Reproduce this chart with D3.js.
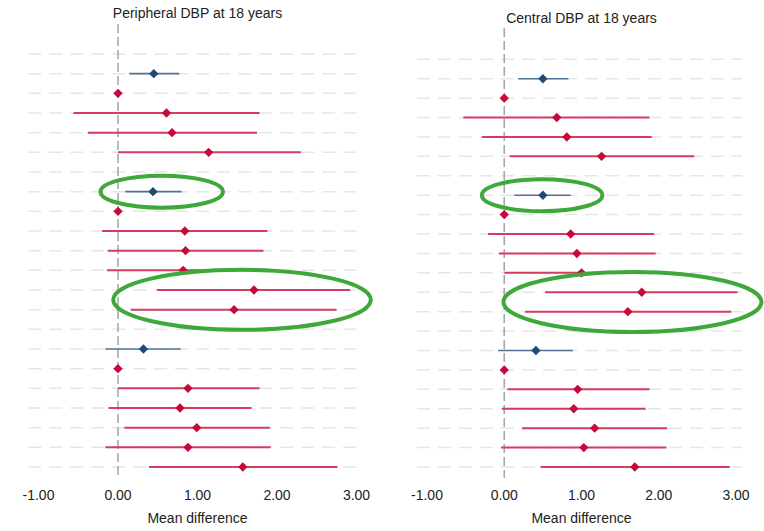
<!DOCTYPE html>
<html><head><meta charset="utf-8"><title>DBP at 18 years - forest plot</title>
<style>
    body {
        margin: 0;
        background: #fff;
        font-family: Arial, 'Liberation Sans', sans-serif;
    }
    svg text { fill: #222; }
</style>
<script src="https://cdnjs.cloudflare.com/ajax/libs/d3/7.8.5/d3.min.js"></script>
</head>
<body>
<div id="chart"></div>
<script>
// row kinds: "" = spacer row, "b" = overall estimate, "r" = category estimate
const rowKind = ["", "b", "r", "r", "r", "r", "", "b", "r", "r", "r", "r", "r", "r", "", "b", "r", "r", "r", "r", "r", "r"];

// Peripheral DBP at 18 years
const periphEst = [null, 0.45, 0, 0.61, 0.68, 1.14, null, 0.44, 0, 0.84, 0.85, 0.82, 1.71, 1.46, null, 0.32, 0, 0.88, 0.78, 0.99, 0.88, 1.57];
const periphLo  = [null, 0.14, 0, -0.56, -0.38, 0.00, null, 0.09, 0, -0.20, -0.13, -0.14, 0.49, 0.16, null, -0.16, 0, 0.00, -0.12, 0.08, -0.16, 0.39];
const periphHi  = [null, 0.77, 0, 1.78, 1.75, 2.30, null, 0.80, 0, 1.88, 1.83, 1.85, 2.92, 2.75, null, 0.79, 0, 1.78, 1.68, 1.91, 1.92, 2.76];

// Central DBP at 18 years
const centralEst = [null, 0.50, 0, 0.68, 0.81, 1.26, null, 0.50, 0, 0.86, 0.94, 1.00, 1.78, 1.60, null, 0.41, 0, 0.95, 0.90, 1.17, 1.03, 1.69];
const centralLo  = [null, 0.18, 0, -0.53, -0.29, 0.07, null, 0.13, 0, -0.21, -0.07, 0.00, 0.53, 0.27, null, -0.08, 0, 0.04, -0.03, 0.23, -0.04, 0.47];
const centralHi  = [null, 0.83, 0, 1.88, 1.91, 2.46, null, 0.86, 0, 1.94, 1.96, 1.99, 3.02, 2.94, null, 0.89, 0, 1.88, 1.83, 2.11, 2.10, 2.92];

const xTicks = [-1, 0, 1, 2, 3];

// green rings drawn on the picture: centre (mean difference), half-width (mean difference), rows spanned
const periphRings  = [{ cx: 0.55, rx: 0.77, rows: [7, 7] },  { cx: 1.56, rx: 1.62, rows: [12, 13] }];
const centralRings = [{ cx: 0.49, rx: 0.78, rows: [7, 7] },  { cx: 1.66, rx: 1.67, rows: [12, 13] }];

const W = 764, H = 531;
const svg = d3.select("#chart").append("svg")
    .attr("width", W).attr("height", H);

const colors = {
    bLine: "#4f7395", bDot: "#1f4a73",
    rLine: "#d43d60", rDot: "#c8083a"
};

const panels = [
    { title: "Peripheral DBP at 18 years", est: periphEst, lo: periphLo, hi: periphHi, rings: periphRings,
      x0: 38.5, x3: 356.5, yTop: 54, yBot: 467, titleY: 18, lineTop: 24 },
    { title: "Central DBP at 18 years", est: centralEst, lo: centralLo, hi: centralHi, rings: centralRings,
      x0: 427, x3: 736, yTop: 59.3, yBot: 467, titleY: 23, lineTop: 28 }
];

panels.forEach(p => {
    const x = d3.scaleLinear().domain([-1, 3]).range([p.x0, p.x3]);
    const y = d3.scalePoint().domain(d3.range(rowKind.length)).range([p.yTop, p.yBot]);
    const g = svg.append("g");

    // horizontal dashed grid lines
    g.append("g").selectAll("line")
        .data(d3.range(rowKind.length))
        .join("line")
        .attr("x1", x(-1.13)).attr("x2", x(3.08))
        .attr("y1", d => y(d)).attr("y2", d => y(d))
        .attr("stroke", "#e6e6e6")
        .attr("stroke-width", 1.5)
        .attr("stroke-dasharray", "13,8");

    // reference line at zero
    g.append("line")
        .attr("x1", x(0)).attr("x2", x(0))
        .attr("y1", p.lineTop).attr("y2", 478)
        .attr("stroke", "#a8a8a8")
        .attr("stroke-width", 1.6)
        .attr("stroke-dasharray", "9,4");

    const rows = d3.range(rowKind.length).filter(i => rowKind[i] !== "");

    // confidence intervals
    g.append("g").selectAll("line")
        .data(rows.filter(i => p.hi[i] > p.lo[i]))
        .join("line")
        .attr("x1", i => x(p.lo[i])).attr("x2", i => x(p.hi[i]))
        .attr("y1", i => y(i)).attr("y2", i => y(i))
        .attr("stroke", i => rowKind[i] === "b" ? colors.bLine : colors.rLine)
        .attr("stroke-width", i => rowKind[i] === "b" ? 1.6 : 2);

    // point estimates (diamonds)
    g.append("g").selectAll("path")
        .data(rows)
        .join("path")
        .attr("d", d3.symbol(d3.symbolDiamond2, 56))
        .attr("transform", i => `translate(${x(p.est[i])},${y(i)})`)
        .attr("fill", i => rowKind[i] === "b" ? colors.bDot : colors.rDot);

    // x axis tick labels
    g.append("g").selectAll("text")
        .data(xTicks)
        .join("text")
        .attr("x", d => x(d)).attr("y", 500)
        .attr("text-anchor", "middle")
        .attr("font-size", 14)
        .text(d => d.toFixed(2));

    g.append("text")
        .attr("x", x(1)).attr("y", 523)
        .attr("text-anchor", "middle")
        .attr("font-size", 14)
        .text("Mean difference");

    g.append("text")
        .attr("x", x(1)).attr("y", p.titleY)
        .attr("text-anchor", "middle")
        .attr("font-size", 14)
        .text(p.title);

    // green annotation rings
    g.append("g").selectAll("ellipse")
        .data(p.rings)
        .join("ellipse")
        .attr("cx", d => x(d.cx))
        .attr("cy", d => (y(d.rows[0]) + y(d.rows[1])) / 2)
        .attr("rx", d => x(d.rx) - x(0))
        .attr("ry", d => d.rows[0] === d.rows[1] ? 16 : 30)
        .attr("fill", "none")
        .attr("stroke", "#3fa83a")
        .attr("stroke-width", 4);
});
</script>
</body>
</html>
